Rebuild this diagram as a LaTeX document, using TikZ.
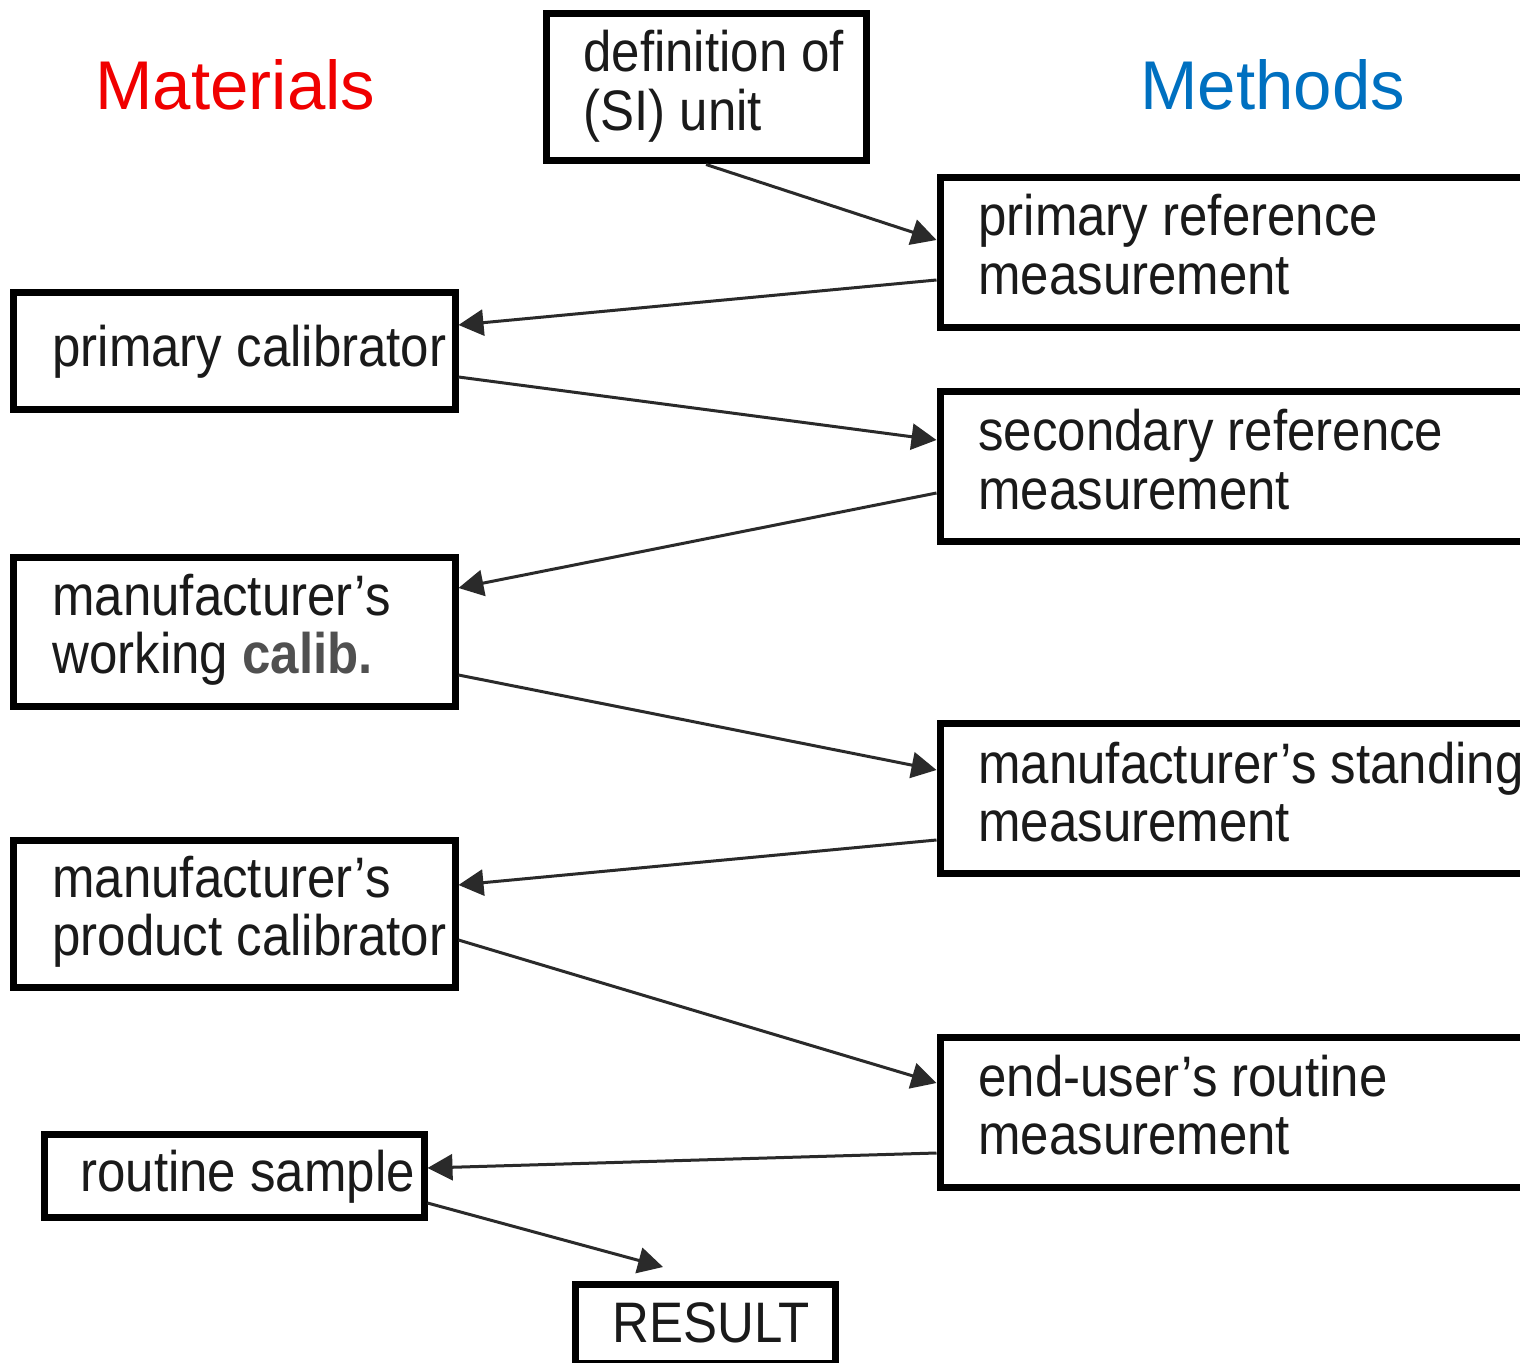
\documentclass[tikz,border=0pt]{standalone}
\usepackage{fontspec}
\setmainfont{Liberation Sans}
\usepackage{graphicx}
\usetikzlibrary{arrows.meta,fit}
\definecolor{ink}{HTML}{1A1A1A}
\definecolor{linegray}{HTML}{2A2A2A}
\definecolor{boldgray}{HTML}{505050}
\definecolor{matred}{RGB}{240,0,0}
\definecolor{methblue}{HTML}{0070C0}
% box labels: Arial-like text, slightly tall, first baseline as reference
\newcommand\boxtext[1]{\scalebox{1}[1.12]{\fontsize{25.5pt}{26pt}\selectfont
  \begin{tabular}[t]{@{}l@{}}#1\end{tabular}}}
\tikzset{
  frame/.style={draw=black, line width=3.5pt, inner sep=0pt, fill=white},
  lbl/.style={anchor=base west, inner sep=0pt, text=ink},
  head/.style={anchor=base west, inner sep=0pt, font=\fontsize{34.5pt}{40pt}\selectfont},
  conn/.style={draw=linegray, line width=1.5pt,
    -{Triangle[length=12.5pt,width=13pt]}, shorten <=0pt},
}
\begin{document}
\begin{tikzpicture}[x=0.5pt,y=-0.5pt]
\useasboundingbox (0,0) rectangle (1520,1363);
\clip (0,0) rectangle (1520,1363);
\fill[white] (0,0) rectangle (1520,1363);

% column headings
\node[head, text=matred] (mat) at (95,110) {Materials};
\node[head, text=methblue] (meth) at (1140,110) {Methods};

% frames
\node[frame, fit={(546,14) (866,161)}] (def) {};
\node[frame, fit={(940,178) (1560,328)}] (pr) {};
\node[frame, fit={(13,293) (455,410)}] (pcal) {};
\node[frame, fit={(940,392) (1560,542)}] (sec) {};
\node[frame, fit={(13,558) (455,706)}] (work) {};
\node[frame, fit={(940,723) (1560,873)}] (stand) {};
\node[frame, fit={(13,840) (455,987)}] (prod) {};
\node[frame, fit={(940,1037) (1560,1187)}] (endu) {};
\node[frame, fit={(44,1134) (424,1217)}] (rs) {};
\node[frame, fit={(575,1284) (835,1363)}] (res) {};

% texts
\node[lbl] (deft) at (583,72) {\boxtext{definition of\\(SI) unit}};
\node[lbl] (prt) at (978,236) {\boxtext{primary reference\\measurement}};
\node[lbl] (pcalt) at (52,367) {\boxtext{primary calibrator}};
\node[lbl] (sect) at (978,451) {\boxtext{secondary reference\\measurement}};
\node[lbl] (workt) at (52,615) {\boxtext{manufacturer’s\\working \textcolor{boldgray}{\bfseries calib.}}};
\node[lbl] (standt) at (978,783) {\boxtext{manufacturer’s standing\\measurement}};
\node[lbl] (prodt) at (52,897) {\boxtext{manufacturer’s\\product calibrator}};
\node[lbl] (endt) at (978,1096) {\boxtext{end-user’s routine\\measurement}};
\node[lbl] (rst) at (80,1191) {\boxtext{routine sample}};
\node[lbl] (rest) at (612,1342) {\boxtext{RESULT}};

% connectors
\draw[conn] (def.south) -- ([yshift=6.5pt]pr.west);
\draw[conn] ([yshift=-13.5pt]pr.west) -- ([yshift=13.25pt]pcal.east);
\draw[conn] ([yshift=-12.75pt]pcal.east) -- ([yshift=13.5pt]sec.west);
\draw[conn] ([yshift=-13pt]sec.west) -- ([yshift=22pt]work.east);
\draw[conn] ([yshift=-21.5pt]work.east) -- ([yshift=14pt]stand.west);
\draw[conn] ([yshift=-21pt]stand.west) -- ([yshift=14.25pt]prod.east);
\draw[conn] ([yshift=-13.25pt]prod.east) -- ([yshift=14.5pt]endu.west);
\draw[conn] ([yshift=-20.5pt]endu.west) -- ([yshift=3.75pt]rs.east);
\draw[conn] ([yshift=-13.75pt]rs.east) -- ([xshift=-21pt,yshift=6.75pt]res.north);
\end{tikzpicture}
\end{document}
